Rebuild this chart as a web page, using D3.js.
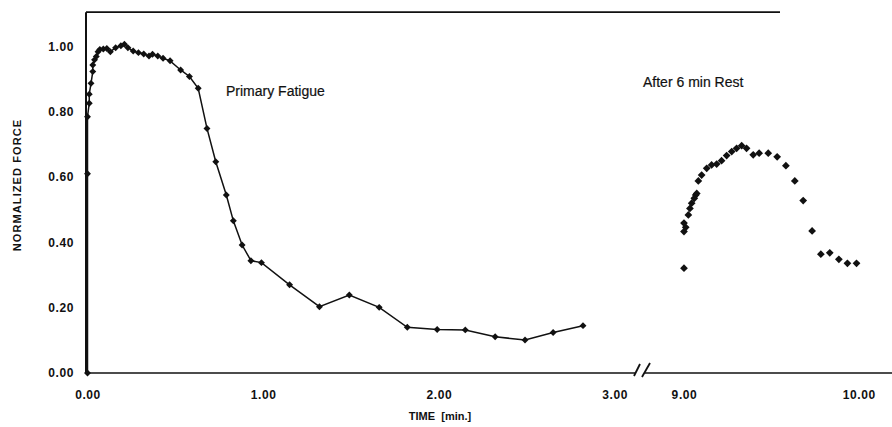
<!DOCTYPE html>
<head>
  <title>Normalized force - primary fatigue and recovery</title>
  <script src="https://d3js.org/d3.v7.min.js"></script>
  <style>
    body { margin: 0; background: #fff; }
    .axis text { font-family: "Liberation Sans", Arial, sans-serif; font-weight: bold; font-size: 12px; letter-spacing: 0.6px; fill: #111; }
    .axis path { display: none; }
    .note { font-family: "Liberation Sans", Arial, sans-serif; font-size: 14px; fill: #111; stroke: #111; stroke-width: 0.2px; }
    .title { font-family: "Liberation Sans", Arial, sans-serif; font-weight: bold; font-size: 11px; fill: #111; white-space: pre; }
  </style>
</head>
<body>
  <svg width="892" height="427"></svg>
  <script>
    // primary fatigue run (minutes, normalized force)
    const fatigueTime  = [0.00, 0.00, 0.00, 0.01, 0.01, 0.02, 0.03, 0.03, 0.04, 0.05, 0.06, 0.07, 0.09,
                          0.11, 0.13, 0.16, 0.19, 0.21, 0.23, 0.26, 0.29, 0.32, 0.35, 0.37, 0.40, 0.43,
                          0.47, 0.53, 0.58, 0.63, 0.68, 0.73, 0.79, 0.83, 0.88, 0.93, 0.99, 1.15, 1.32,
                          1.49, 1.66, 1.82, 1.99, 2.15, 2.32, 2.49, 2.65, 2.82];
    const fatigueForce = [0.00, 0.61, 0.785, 0.826, 0.854, 0.887, 0.923, 0.943, 0.959, 0.969, 0.984, 0.991, 0.992,
                          0.994, 0.984, 0.996, 1.002, 1.007, 0.996, 0.986, 0.981, 0.977, 0.971, 0.976, 0.971, 0.964,
                          0.956, 0.928, 0.908, 0.872, 0.749, 0.647, 0.545, 0.466, 0.392, 0.344, 0.338, 0.270, 0.203,
                          0.239, 0.201, 0.140, 0.133, 0.132, 0.111, 0.101, 0.124, 0.145];
    // after 6 min rest
    const restTime  = [9.00, 9.00, 9.00, 9.01, 9.025, 9.034, 9.044, 9.059, 9.067, 9.073, 9.082, 9.101, 9.13,
                       9.158, 9.187, 9.215, 9.244, 9.273, 9.301, 9.33, 9.358, 9.396, 9.43, 9.482, 9.533,
                       9.583, 9.634, 9.682, 9.733, 9.783, 9.834, 9.886, 9.935, 9.987];
    const restForce = [0.321, 0.433, 0.459, 0.446, 0.484, 0.504, 0.520, 0.535, 0.545, 0.550, 0.588, 0.606, 0.627,
                       0.637, 0.640, 0.650, 0.666, 0.678, 0.688, 0.696, 0.688, 0.668, 0.673, 0.673, 0.662,
                       0.635, 0.588, 0.528, 0.435, 0.364, 0.368, 0.348, 0.336, 0.336];
    const yTicks  = [0, 0.2, 0.4, 0.6, 0.8, 1.0];
    const xTicksA = [0, 1, 2, 3];
    const xTicksB = [9, 10];

    const svg = d3.select("svg");
    const fmt = d3.format(".2f");

    const y  = d3.scaleLinear().domain([0, 1.1]).range([373, 13.8]);
    const x1 = d3.scaleLinear().domain([0, 3.15]).range([87.5, 641]);
    const x2 = d3.scaleLinear().domain([8.65, 10.19]).range([622.8, 892]);

    const left = x1(0) - 1.5, bottom = y(0), breakX = 642;

    // frame: top line, left axis, bottom axis
    svg.append("line").attr("x1", left).attr("x2", 780).attr("y1", y(1.105)).attr("y2", y(1.105))
      .attr("stroke", "#111").attr("stroke-width", 1.6);
    svg.append("line").attr("x1", left).attr("x2", left).attr("y1", y(1.105)).attr("y2", bottom)
      .attr("stroke", "#111").attr("stroke-width", 2);
    svg.append("line").attr("x1", left).attr("x2", 892).attr("y1", bottom).attr("y2", bottom)
      .attr("stroke", "#111").attr("stroke-width", 1.6);

    // axis break
    svg.append("rect").attr("x", breakX - 6).attr("y", bottom - 3).attr("width", 9).attr("height", 6).attr("fill", "#fff");
    [[-8, 3, -2, -9], [0, 4, 8, -10]].forEach(s => {
      svg.append("line")
        .attr("x1", breakX + s[0]).attr("y1", bottom + s[1])
        .attr("x2", breakX + s[2]).attr("y2", bottom + s[3])
        .attr("stroke", "#111").attr("stroke-width", 1.8);
    });

    svg.append("g").attr("class", "axis")
      .attr("transform", `translate(${left},0)`)
      .call(d3.axisLeft(y).tickValues(yTicks).tickSize(0).tickPadding(12).tickFormat(fmt));
    svg.append("g").attr("class", "axis")
      .attr("transform", `translate(0,${bottom})`)
      .call(d3.axisBottom(x1).tickValues(xTicksA).tickSize(0).tickPadding(17).tickFormat(fmt));
    svg.append("g").attr("class", "axis")
      .attr("transform", `translate(0,${bottom})`)
      .call(d3.axisBottom(x2).tickValues(xTicksB).tickSize(0).tickPadding(17).tickFormat(fmt));

    // axis titles
    svg.append("text").attr("class", "title")
      .attr("x", 440).attr("y", 420).attr("text-anchor", "middle")
      .text("TIME  [min.]");
    svg.append("text").attr("class", "title")
      .attr("transform", "translate(21,185) rotate(-90)")
      .attr("text-anchor", "middle").style("letter-spacing", "1.1px")
      .text("NORMALIZED FORCE");

    // annotations
    svg.append("text").attr("class", "note").attr("x", 226).attr("y", 96).text("Primary Fatigue");
    svg.append("text").attr("class", "note").attr("x", 643).attr("y", 87).text("After 6 min Rest");

    // primary fatigue: line + diamonds
    const fatigue = fatigueTime.map((t, i) => ({t, f: fatigueForce[i]}));
    const rest = restTime.map((t, i) => ({t, f: restForce[i]}));

    svg.append("path").datum(fatigue)
      .attr("fill", "none").attr("stroke", "#111").attr("stroke-width", 1.5)
      .attr("d", d3.line().x(d => x1(d.t)).y(d => y(d.f)));

    // diamonds = squares turned 45 degrees
    svg.append("g").selectAll("path").data(fatigue).enter().append("path")
      .attr("d", d3.symbol().type(d3.symbolSquare).size(24)).attr("fill", "#111")
      .attr("transform", d => `translate(${x1(d.t)},${y(d.f)}) rotate(45)`);

    svg.append("g").selectAll("path").data(rest).enter().append("path")
      .attr("d", d3.symbol().type(d3.symbolSquare).size(30)).attr("fill", "#111")
      .attr("transform", d => `translate(${x2(d.t)},${y(d.f)}) rotate(45)`);
  </script>
</body>
